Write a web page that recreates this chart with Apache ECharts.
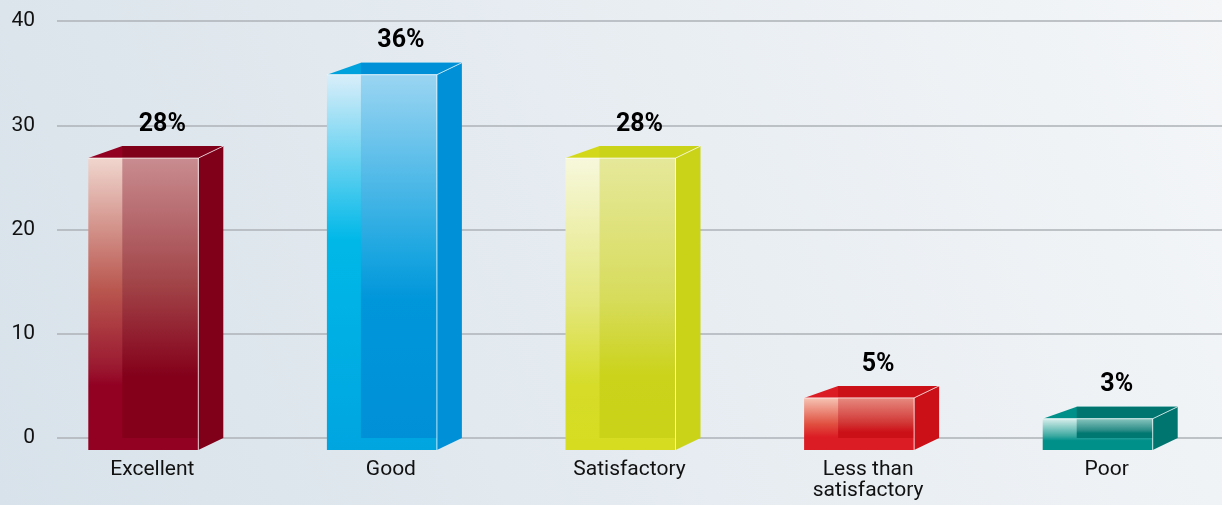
<!DOCTYPE html>
<html>
<head>
<meta charset="utf-8">
<script src="https://cdn.jsdelivr.net/npm/echarts@6/dist/echarts.min.js"></script>
<style>
  html, body { margin: 0; padding: 0; }
  #chart { width: 1222px; height: 505px; }
</style>
</head>
<body>
<div id="chart"></div>
<script>
// survey answers
const categories = ['Excellent', 'Good', 'Satisfactory', 'Less than\nsatisfactory', 'Poor'];
const shares = [28, 36, 28, 5, 3];
const yMin = 0, yMax = 40, yStep = 10;

// colours of each box: front face, the part of the front face over the back, side, top
const frontStops = [
  [[0, '#f0d6ce'], [0.45, '#b9574f'], [0.72, '#9a1830'], [0.78, '#920022'], [1, '#920022']],
  [[0, '#d9eefa'], [0.44, '#00b8e8'], [1, '#00a5e0']],
  [[0, '#f7f8dc'], [0.5, '#e3e67a'], [0.78, '#d6dc28'], [1, '#d6dd20']],
  [[0, '#f6c4b4'], [0.5, '#e05040'], [0.75, '#dc1c24'], [1, '#dc1c24']],
  [[0, '#d8efec'], [0.55, '#3aa8a0'], [0.7, '#00908a'], [1, '#00908a']]
];
const innerStops = [
  [[0, '#c98c90'], [0.45, '#a14448'], [0.78, '#84001a'], [1, '#84001a']],
  [[0, '#9ad5f2'], [0.5, '#1aa5e0'], [0.62, '#0096da'], [1, '#0090d8']],
  [[0, '#e6e89a'], [0.5, '#d7dc5c'], [0.78, '#cbd31a'], [1, '#cad318']],
  [[0, '#e68a80'], [0.6, '#d23a38'], [0.85, '#cc1018'], [1, '#cc1018']],
  [[0, '#88c4be'], [0.6, '#2a8c86'], [0.75, '#007872'], [1, '#007872']]
];
const sideColors = ['#80001a', '#0090d8', '#cad318', '#cc1018', '#007570'];
const topColors = ['#920022', '#00a2de', '#d3d81a', '#dc1c24', '#00908a'];

const labelFont = 'Roboto, sans-serif';

function grad(stops) {
  return new echarts.graphic.LinearGradient(0, 0, 0, 1,
    stops.map(s => ({ offset: s[0], color: s[1] })));
}

function renderBox(params, api) {
  const i = api.value(0);
  const v = api.value(1);
  const top = api.coord([i, v]);
  const base = api.coord([i, 0]);
  const c = top[0];
  const bt = top[1], bb = base[1];
  const ft = bt + 12, fb = bb + 12;
  const edge = { stroke: 'rgba(255,255,255,0.75)', lineWidth: 1, fill: null };
  return {
    type: 'group',
    children: [
      { type: 'polygon', shape: { points: [[c + 46, ft], [c + 71, bt], [c + 71, bb], [c + 46, fb]] },
        style: { fill: sideColors[i] } },
      { type: 'polygon', shape: { points: [[c - 64, ft], [c - 30, bt], [c + 71, bt], [c + 46, ft]] },
        style: { fill: topColors[i] } },
      { type: 'polygon', shape: { points: [[c - 30, bt], [c + 71, bt], [c + 46, ft], [c - 30, ft]] },
        style: { fill: sideColors[i] } },
      { type: 'rect', shape: { x: c - 64, y: ft, width: 110, height: fb - ft },
        style: { fill: grad(frontStops[i]) } },
      { type: 'rect', shape: { x: c - 30, y: ft, width: 76, height: bb - ft },
        style: { fill: grad(innerStops[i]) } },
      { type: 'polyline', shape: { points: [[c - 64, ft], [c + 46, ft], [c + 46, fb]] }, style: edge },
      { type: 'line', shape: { x1: c + 46, y1: ft, x2: c + 71, y2: bt }, style: edge },
      { type: 'text', style: {
          x: c + 10, y: bt - 9, text: v + '%', align: 'center', verticalAlign: 'bottom',
          fontFamily: labelFont, fontWeight: 'bold', fontSize: 25, fill: '#000'
        } }
    ]
  };
}

const chart = echarts.init(document.getElementById('chart'));
chart.setOption({
  animation: false,
  backgroundColor: new echarts.graphic.LinearGradient(0, 1, 1, 0, [
    { offset: 0, color: '#d8e2ea' },
    { offset: 1, color: '#f4f6f8' }
  ]),
  grid: [
    { left: 57, right: 0, top: 21, bottom: 67, outerBoundsMode: 'none' },
    { left: 33, right: -4, top: 21, bottom: 67, outerBoundsMode: 'none' }
  ],
  xAxis: [
    { type: 'value', gridIndex: 0, show: false },
    {
      type: 'category', gridIndex: 1, data: categories,
      axisLine: { show: false }, axisTick: { show: false },
      axisLabel: { interval: 0, margin: 21, fontSize: 21, lineHeight: 21,
        fontFamily: labelFont, color: '#111' }
    }
  ],
  yAxis: [
    {
      type: 'value', gridIndex: 0, min: yMin, max: yMax, interval: yStep,
      axisLine: { show: false }, axisTick: { show: false },
      axisLabel: { margin: 22, fontSize: 21, fontFamily: labelFont, color: '#111' },
      splitLine: { lineStyle: { color: '#adb2b7', width: 1.5 } }
    },
    { type: 'value', gridIndex: 1, min: yMin, max: yMax, interval: yStep, show: false }
  ],
  series: [{
    type: 'custom',
    xAxisIndex: 1,
    yAxisIndex: 1,
    renderItem: renderBox,
    data: shares.map((v, i) => [i, v])
  }]
});
</script>
</body>
</html>
